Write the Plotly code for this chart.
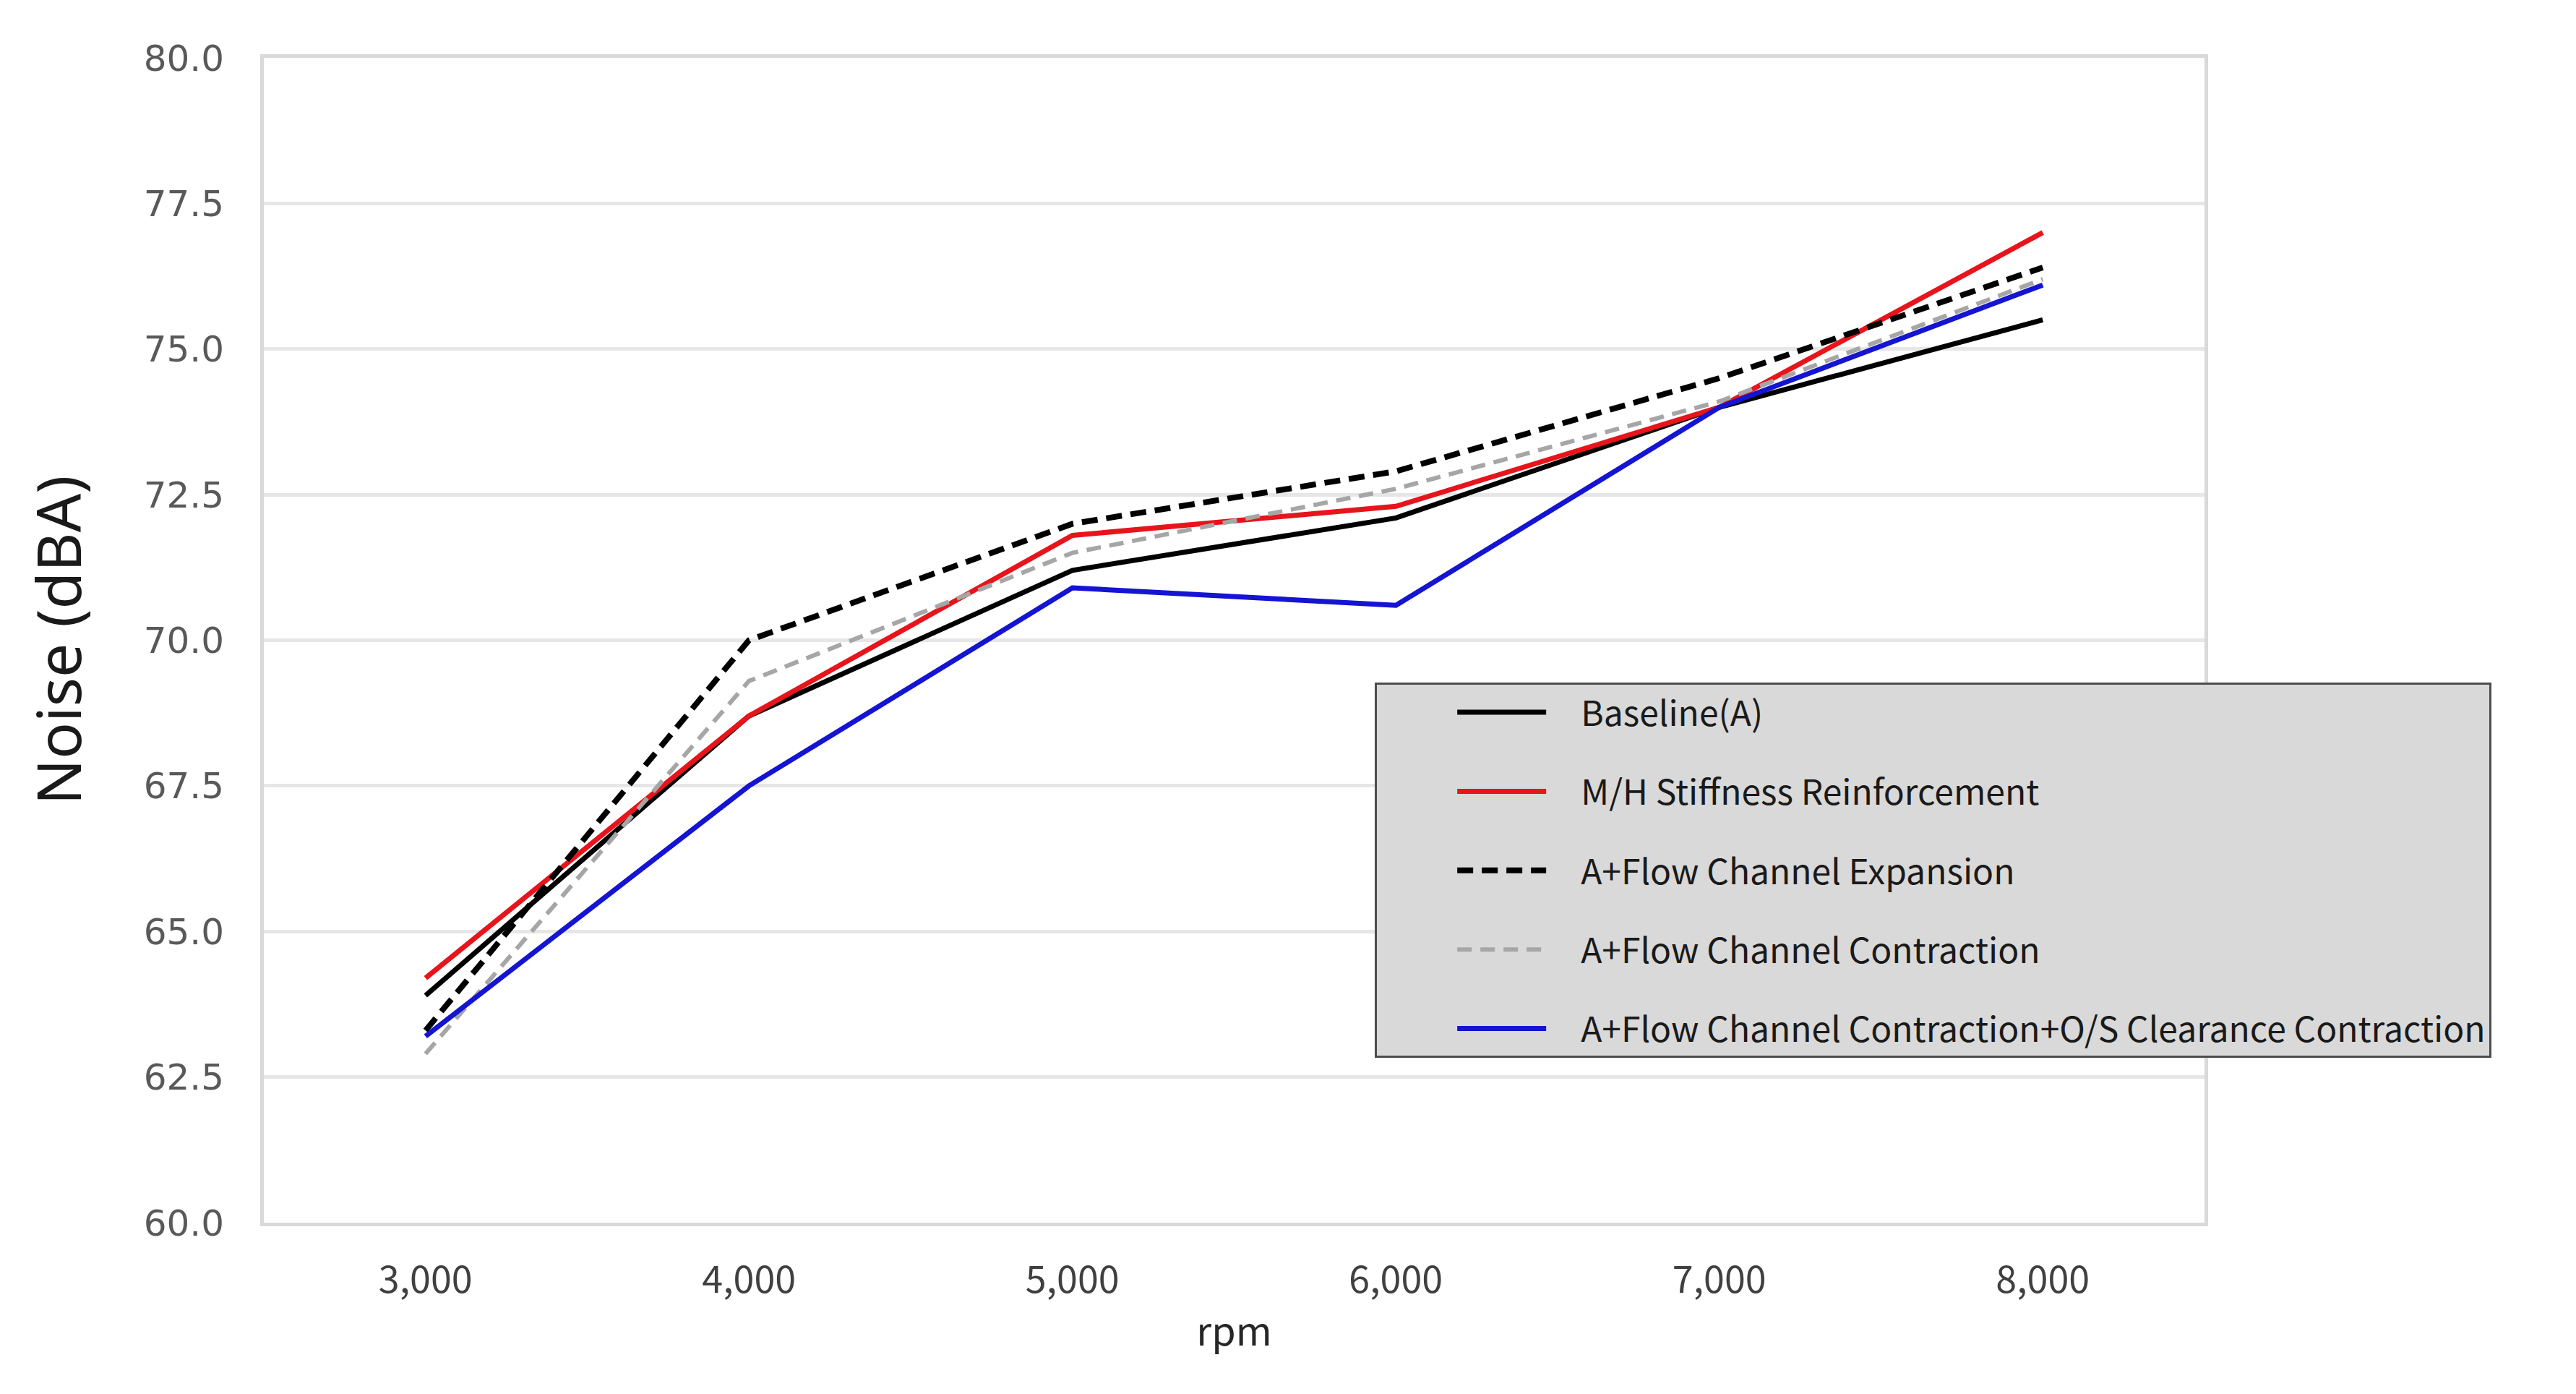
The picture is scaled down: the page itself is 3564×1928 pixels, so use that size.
import plotly.graph_objects as go

rpm_labels = ["3,000", "4,000", "5,000", "6,000", "7,000", "8,000"]

baseline = [63.9, 68.7, 71.2, 72.1, 74.0, 75.5]
mh_stiffness = [64.2, 68.7, 71.8, 72.3, 74.0, 77.0]
flow_expansion = [63.3, 70.0, 72.0, 72.9, 74.5, 76.4]
flow_contraction = [62.9, 69.3, 71.5, 72.6, 74.1, 76.2]
flow_os_contraction = [63.2, 67.5, 70.9, 70.6, 74.0, 76.1]

series_names = [
    "Baseline(A)",
    "M/H Stiffness Reinforcement",
    "A+Flow Channel Expansion",
    "A+Flow Channel Contraction",
    "A+Flow Channel Contraction+O/S Clearance Contraction",
]

y_ticks = [60.0, 62.5, 65.0, 67.5, 70.0, 72.5, 75.0, 77.5, 80.0]

styles = [
    dict(color="#000000", width=7, dash="solid"),
    dict(color="#e8141c", width=7, dash="solid"),
    dict(color="#000000", width=8, dash="22px,12px"),
    dict(color="#a6a6a6", width=6, dash="20px,12px"),
    dict(color="#1414d2", width=7, dash="solid"),
]

fig = go.Figure()
for i, (name, vals, st) in enumerate(zip(
    series_names,
    [baseline, mh_stiffness, flow_expansion, flow_contraction, flow_os_contraction],
    styles,
)):
    # leading spaces widen the gap between legend line and label
    fig.add_trace(go.Scatter(
        x=rpm_labels, y=vals, mode="lines", name="\u00a0" * 4 + name,
        line=st, legendgroup=f"g{i}",
    ))

fig.update_layout(
    width=3564,
    height=1928,
    paper_bgcolor="white",
    plot_bgcolor="white",
    margin=dict(l=357, r=522, t=72, b=245),
    font=dict(family="Noto Sans CJK KR", color="#333333"),
    legend=dict(
        x=0.5725, y=0.4635, xanchor="left", yanchor="top",
        bgcolor="#d9d9d9", bordercolor="#4d4d4d", borderwidth=3,
        font=dict(size=48, family="Noto Sans CJK KR", color="#1a1a1a"),
        tracegroupgap=44, itemwidth=123, indentation=106,
    ),
    xaxis=dict(
        type="category",
        range=[-0.5, 5.5],
        showgrid=False,
        showline=True, mirror=True, linecolor="#d9d9d9", linewidth=5,
        ticks="outside", ticklen=30, tickcolor="rgba(0,0,0,0)",
        tickfont=dict(size=52, family="Noto Sans CJK KR", color="#404040"),
        title=dict(text="rpm", font=dict(size=54, family="Noto Sans CJK KR", color="#262626"), standoff=22),
    ),
    yaxis=dict(
        range=[60, 80],
        tickvals=y_ticks,
        tickformat=".1f",
        showgrid=True, gridcolor="#e6e6e6", gridwidth=5,
        showline=True, mirror=True, linecolor="#d9d9d9", linewidth=5,
        ticks="outside", ticklen=40, tickcolor="rgba(0,0,0,0)",
        tickfont=dict(size=50, family="DejaVu Sans", color="#595959"),
        title=dict(text="Noise (dBA)", font=dict(size=84, family="Noto Sans", color="#1a1a1a"), standoff=60),
        zeroline=False,
    ),
)

fig.write_html("out.html")
